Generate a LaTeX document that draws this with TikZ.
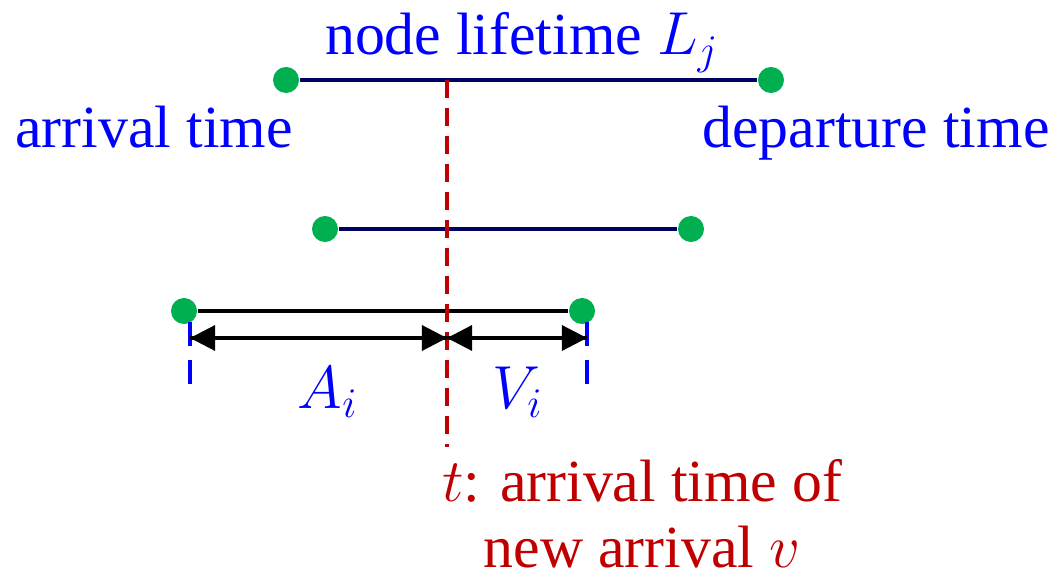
\documentclass[tikz,border=0pt]{standalone}
\usepackage{fontspec}
\setmainfont{Liberation Serif}
\newfontfamily\timesfont{Liberation Serif}
\usetikzlibrary{arrows.meta}

\definecolor{dotgreen}{RGB}{0,176,80}
\definecolor{lifenavy}{RGB}{0,0,96}
\definecolor{arrred}{RGB}{192,0,0}

\begin{document}
\begin{tikzpicture}[x=0.01cm,y=-0.01cm,
  dot/.style={circle,fill=dotgreen,inner sep=0pt,minimum size=0.26cm},
  lbl/.style={font=\timesfont\fontsize{17}{18.5}\selectfont,inner sep=0pt},
  tip/.style={-{Triangle[length=0.25cm,width=0.25cm]}}]
\useasboundingbox (0,0) rectangle (1058,579);

% Lebensdauern
\node[dot] (a1) at (286,80) {};
\node[dot] (d1) at (771,80) {};
\node[dot] (a2) at (325,229) {};
\node[dot] (d2) at (691,229) {};
\node[dot] (a3) at (184,311) {};
\node[dot] (d3) at (582,311) {};
\draw[lifenavy, line width=0.9pt] (a1) -- (d1);
\draw[lifenavy, line width=0.9pt] (a2) -- (d2);
\draw[black, line width=0.9pt] (a3) -- (d3);

% Beschriftung oben
\node[lbl, blue, anchor=base] (life) at (522,55) {node lifetime $L_j$};
\node[lbl, blue, anchor=base] (arr) at (154,148) {arrival time};
\node[lbl, blue, anchor=base] (dep) at (876,148) {departure time};

% Zeitpunkt t
\coordinate (ttop) at (447,80);
\coordinate (tbot) at (447,447);
\draw[arrred, line width=1.1pt, dash pattern=on 0.18cm off 0.1cm] (ttop) -- (tbot);
\node[lbl, arrred, align=center, anchor=base] (tlbl) at (642,567)
  {$t$: arrival time of\\new arrival $v$};

% Markierungen
\coordinate (pA) at (190,338);
\coordinate (pT) at (447,338);
\coordinate (pV) at (587,338);
\coordinate (pAt) at (190,322);
\coordinate (pAb) at (190,395);
\coordinate (pVt) at (587,322);
\coordinate (pVb) at (587,395);
\draw[blue, line width=1.1pt, dash pattern=on 0.24cm off 0.14cm] (pAt) -- (pAb);
\draw[blue, line width=1.1pt, dash pattern=on 0.24cm off 0.14cm] (pVt) -- (pVb);
\draw[tip, line width=0.9pt] (pT) -- (pA);
\draw[tip, line width=0.9pt] (pA) -- (pT);
\draw[tip, line width=0.9pt] (pT) -- (pV);
\draw[tip, line width=0.9pt] (pV) -- (pT);
\node[lbl, blue] (Ai) at (328,392) {$A_i$};
\node[lbl, blue] (Vi) at (518,392) {$V_i$};

\end{tikzpicture}
\end{document}
